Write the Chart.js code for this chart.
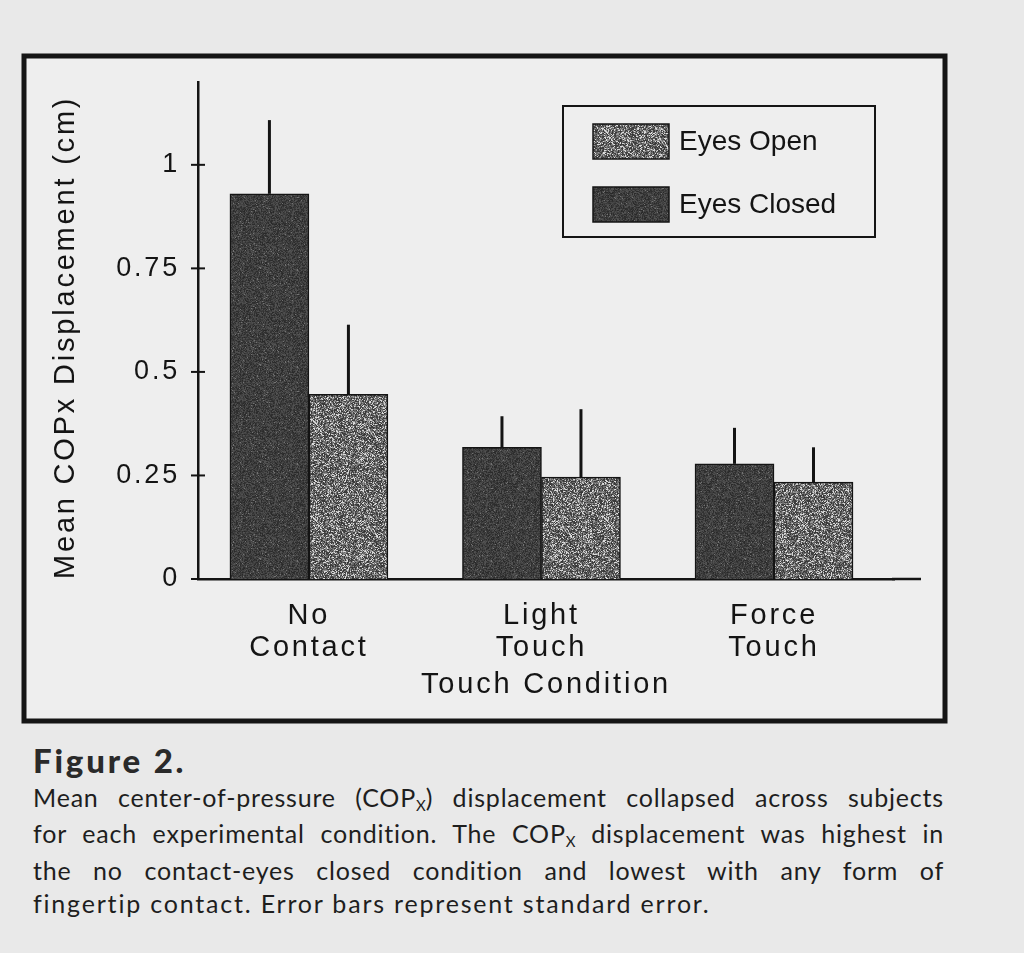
<!DOCTYPE html>
<html><head><meta charset="utf-8">
<script src="https://cdn.jsdelivr.net/npm/chart.js@4.4.1/dist/chart.umd.min.js"></script>
<style>
html,body{margin:0;padding:0;background:#e9e9e9;}
#wrap{position:relative;width:1024px;height:953px;overflow:hidden;background:#e9e9e9;}
#c{position:absolute;left:0;top:0;}
.cap{position:absolute;left:33px;width:911px;font-family:"Lato","Open Sans",sans-serif;color:#1e1e1e;white-space:nowrap;}
.fig{font-weight:900;font-size:33px;letter-spacing:2.8px;line-height:36px;top:742px;color:#2a2a2a;}
.ln{font-size:25px;letter-spacing:0.8px;line-height:36px;text-align:justify;text-align-last:justify;}
.last{text-align:left;text-align-last:left;letter-spacing:1.8px;}
sub{font-size:15px;vertical-align:-4px;line-height:0;letter-spacing:0;}
</style></head><body>
<div id="wrap">
<canvas id="c" width="1024" height="730"></canvas>
<div class="cap fig">Figure 2.</div>
<div class="cap ln" style="top:779px">Mean center-of-pressure (COP<sub>X</sub>) displacement collapsed across subjects</div>
<div class="cap ln" style="top:815px">for each experimental condition. The COP<sub>X</sub> displacement was highest in</div>
<div class="cap ln" style="top:852px">the no contact-eyes closed condition and lowest with any form of</div>
<div class="cap ln last" style="top:885px">fingertip contact. Error bars represent standard error.</div>
</div>
<script>
// ---- data ----
const categories = ['No Contact', 'Light Touch', 'Force Touch'];
const categoryLines = [['No', 'Contact'], ['Light', 'Touch'], ['Force', 'Touch']];
const eyesClosed = [0.930, 0.318, 0.278];
const eyesClosedSE = [0.178, 0.075, 0.087];
const eyesOpen = [0.446, 0.246, 0.234];
const eyesOpenSE = [0.168, 0.164, 0.084];
const yTickValues = [0, 0.25, 0.5, 0.75, 1];
const yTickLabels = ['0', '0.25', '0.5', '0.75', '1'];
const legendOrder = ['Eyes Open', 'Eyes Closed'];

// ---- textures ----
function hash(x, y, s) {
  const v = Math.sin(x * 12.9898 + y * 78.233 + s * 37.719) * 43758.5453;
  return v - Math.floor(v);
}
function makePattern(kind) {
  const n = 97;
  const cv = document.createElement('canvas');
  cv.width = n; cv.height = n;
  const g = cv.getContext('2d');
  const img = g.createImageData(n, n);
  for (let y = 0; y < n; y++) for (let x = 0; x < n; x++) {
    const h = hash(x, y, kind === 'dark' ? 1 : 2);
    const h2 = hash(x + 3, y + 7, 5);
    let v;
    if (kind === 'dark') {
      v = 62 + (h - 0.5) * 44;
      if (h2 > 0.975) v = 115;
    } else {
      if (h < 0.34) v = 62; else if (h < 0.64) v = 105; else if (h < 0.84) v = 150; else v = 215;
      v += (h2 - 0.5) * 20;
    }
    const k = (y * n + x) * 4;
    img.data[k] = img.data[k + 1] = img.data[k + 2] = Math.max(0, Math.min(255, v));
    img.data[k + 3] = 255;
  }
  g.putImageData(img, 0, 0);
  return g.createPattern(cv, 'repeat');
}
const darkFill = makePattern('dark');
const lightFill = makePattern('light');

const FONT = '"Liberation Sans", Arial, Helvetica, sans-serif';
const INK = '#141414';

const framePlugin = {
  id: 'frame',
  beforeDraw(chart) {
    const ctx = chart.ctx;
    ctx.save();
    ctx.fillStyle = '#e9e9e9';
    ctx.fillRect(0, 0, chart.width, chart.height);
    ctx.fillStyle = '#eeeeee';
    ctx.fillRect(24, 56, 921, 665);
    ctx.lineWidth = 5;
    ctx.strokeStyle = '#151515';
    ctx.strokeRect(24, 56, 921, 665);
    ctx.restore();
    ctx.letterSpacing = '2.8px';
  },
  afterDatasetsDraw(chart) {
    const ctx = chart.ctx;
    const ys = chart.scales.y, ca = chart.chartArea;
    ctx.save();
    ctx.strokeStyle = INK;
    // error bars (upper half)
    const errs = [eyesClosedSE, eyesOpenSE];
    const vals = [eyesClosed, eyesOpen];
    ctx.lineWidth = 3;
    chart.data.datasets.forEach((ds, d) => {
      const meta = chart.getDatasetMeta(d);
      meta.data.forEach((el, i) => {
        const top = ys.getPixelForValue(vals[d][i] + errs[d][i]);
        ctx.beginPath();
        ctx.moveTo(el.x, el.y);
        ctx.lineTo(el.x, top);
        ctx.stroke();
      });
    });
    // y tick marks crossing the axis
    ctx.lineWidth = 2;
    ys.ticks.forEach(t => {
      const py = ys.getPixelForValue(t.value);
      ctx.beginPath();
      ctx.moveTo(ca.left - 7, py);
      ctx.lineTo(ca.left + 7, py);
      ctx.stroke();
    });
    // x axis line continues past the last group
    ctx.lineWidth = 2.5;
    ctx.beginPath();
    ctx.moveTo(ca.right - 2, ca.bottom);
    ctx.lineTo(921, ca.bottom);
    ctx.stroke();
    ctx.restore();
  },
  afterDraw(chart) {
    const ctx = chart.ctx;
    ctx.save();
    ctx.letterSpacing = '0px';
    ctx.lineWidth = 2;
    ctx.strokeStyle = INK;
    ctx.strokeRect(563, 106, 312, 131);
    ctx.font = '28px ' + FONT;
    ctx.textBaseline = 'middle';
    ctx.textAlign = 'left';
    legendOrder.forEach((lab, k) => {
      const ds = chart.data.datasets.find(d => d.label === lab);
      const y0 = 124 + k * 63;
      ctx.fillStyle = ds.backgroundColor;
      ctx.fillRect(593, y0, 76, 35);
      ctx.lineWidth = 1.5;
      ctx.strokeRect(593, y0, 76, 35);
      ctx.fillStyle = INK;
      ctx.fillText(lab, 679, y0 + 18);
    });
    ctx.restore();
  }
};

new Chart(document.getElementById('c'), {
  type: 'bar',
  data: {
    datasets: [
      { label: 'Eyes Closed', data: eyesClosed.map((v, i) => ({ x: i, y: v })),
        backgroundColor: darkFill, borderColor: INK, borderWidth: 1.5, borderSkipped: 'bottom' },
      { label: 'Eyes Open', data: eyesOpen.map((v, i) => ({ x: i, y: v })),
        backgroundColor: lightFill, borderColor: INK, borderWidth: 1.5, borderSkipped: 'bottom' }
    ]
  },
  plugins: [framePlugin],
  options: {
    responsive: false,
    animation: false,
    devicePixelRatio: 1,
    barThickness: 79,
    layout: { padding: { left: 0, right: 130, top: 82, bottom: 0 } },
    plugins: { legend: { display: false }, tooltip: { enabled: false } },
    scales: {
      x: {
        type: 'linear',
        offset: false,
        min: -0.477,
        max: 2.516,
        afterBuildTicks: s => { s.ticks = categories.map((c, i) => ({ value: i })); },
        afterFit: s => { s.height = 151; },
        grid: { display: false, drawTicks: false },
        border: { display: true, color: INK, width: 2.5 },
        ticks: {
          autoSkip: false, maxRotation: 0, padding: 21, color: INK,
          font: { family: FONT, size: 29, lineHeight: 1.1 },
          callback: (v, i) => categoryLines[i]
        },
        title: { display: true, text: 'Touch Condition', color: INK,
          font: { family: FONT, size: 29 }, padding: { top: 0, bottom: 28 } }
      },
      y: {
        type: 'linear',
        min: 0,
        max: 1.2,
        afterBuildTicks: s => { s.ticks = yTickValues.map(v => ({ value: v })); },
        afterFit: s => { s.width = 198; },
        grid: { display: false, drawTicks: false },
        border: { display: true, color: INK, width: 2.5 },
        ticks: { padding: 18, color: INK, font: { family: FONT, size: 27 },
          callback: (v, i) => yTickLabels[i] },
        title: { display: true, text: 'Mean COPx Displacement (cm)', color: INK, align: 'start',
          font: { family: FONT, size: 29 }, padding: { top: 49, bottom: 0 } }
      }
    }
  }
});
</script>
</body></html>
